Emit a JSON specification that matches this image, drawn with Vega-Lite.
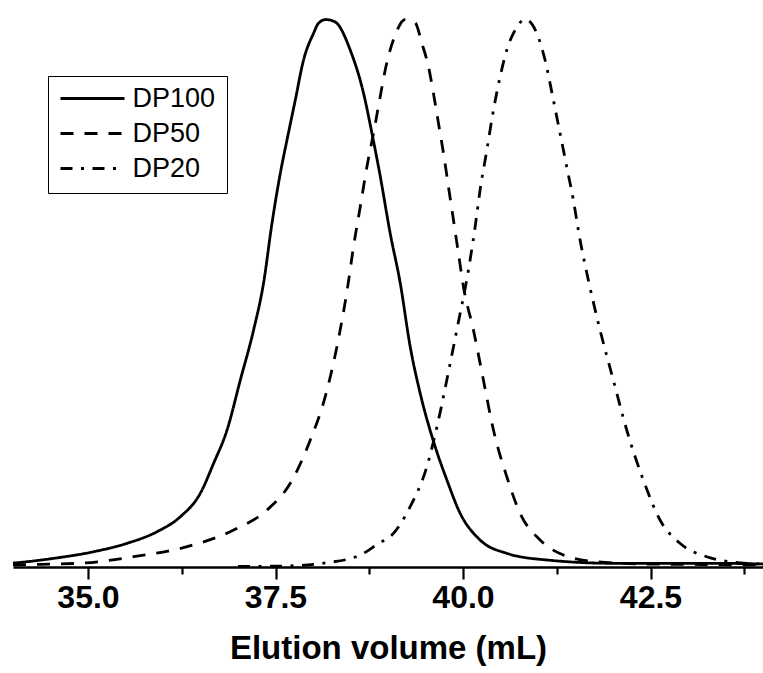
{
  "$schema": "https://vega.github.io/schema/vega-lite/v6.json",
  "autosize": {"type": "none"},
  "padding": {"left": 13, "top": 11, "right": 0, "bottom": 106},
  "width": 750,
  "height": 556,
  "background": "white",
  "config": {"view": {"stroke": null}},
  "data": {
    "values": [
      {"s": "DP100", "v": 34.0, "a": 0.007},
      {"s": "DP100", "v": 34.056, "a": 0.0077},
      {"s": "DP100", "v": 34.544, "a": 0.0156},
      {"s": "DP100", "v": 35.076, "a": 0.0275},
      {"s": "DP100", "v": 35.521, "a": 0.0426},
      {"s": "DP100", "v": 35.921, "a": 0.0635},
      {"s": "DP100", "v": 36.232, "a": 0.0905},
      {"s": "DP100", "v": 36.498, "a": 0.1326},
      {"s": "DP100", "v": 36.675, "a": 0.1865},
      {"s": "DP100", "v": 36.854, "a": 0.2464},
      {"s": "DP100", "v": 37.031, "a": 0.3363},
      {"s": "DP100", "v": 37.208, "a": 0.4263},
      {"s": "DP100", "v": 37.341, "a": 0.5108},
      {"s": "DP100", "v": 37.453, "a": 0.6182},
      {"s": "DP100", "v": 37.564, "a": 0.7081},
      {"s": "DP100", "v": 37.653, "a": 0.768},
      {"s": "DP100", "v": 37.764, "a": 0.8399},
      {"s": "DP100", "v": 37.874, "a": 0.9119},
      {"s": "DP100", "v": 38.007, "a": 0.9599},
      {"s": "DP100", "v": 38.073, "a": 0.978},
      {"s": "DP100", "v": 38.17, "a": 0.9847},
      {"s": "DP100", "v": 38.246, "a": 0.983},
      {"s": "DP100", "v": 38.319, "a": 0.9779},
      {"s": "DP100", "v": 38.496, "a": 0.9299},
      {"s": "DP100", "v": 38.674, "a": 0.852},
      {"s": "DP100", "v": 38.786, "a": 0.78},
      {"s": "DP100", "v": 38.896, "a": 0.7032},
      {"s": "DP100", "v": 39.029, "a": 0.6002},
      {"s": "DP100", "v": 39.163, "a": 0.5108},
      {"s": "DP100", "v": 39.296, "a": 0.3962},
      {"s": "DP100", "v": 39.429, "a": 0.3124},
      {"s": "DP100", "v": 39.629, "a": 0.2164},
      {"s": "DP100", "v": 39.785, "a": 0.1565},
      {"s": "DP100", "v": 39.962, "a": 0.0966},
      {"s": "DP100", "v": 40.228, "a": 0.0486},
      {"s": "DP100", "v": 40.584, "a": 0.0246},
      {"s": "DP100", "v": 41.117, "a": 0.0126},
      {"s": "DP100", "v": 42.0, "a": 0.0067},
      {"s": "DP100", "v": 43.333, "a": 0.0067},
      {"s": "DP100", "v": 44.0, "a": 0.0054},

      {"s": "DP50", "v": 34.0, "a": 0.004},
      {"s": "DP50", "v": 34.277, "a": 0.0045},
      {"s": "DP50", "v": 34.943, "a": 0.0072},
      {"s": "DP50", "v": 35.609, "a": 0.0185},
      {"s": "DP50", "v": 36.321, "a": 0.0365},
      {"s": "DP50", "v": 36.942, "a": 0.0665},
      {"s": "DP50", "v": 37.387, "a": 0.1025},
      {"s": "DP50", "v": 37.697, "a": 0.1505},
      {"s": "DP50", "v": 37.964, "a": 0.2284},
      {"s": "DP50", "v": 38.163, "a": 0.3063},
      {"s": "DP50", "v": 38.319, "a": 0.3962},
      {"s": "DP50", "v": 38.47, "a": 0.5108},
      {"s": "DP50", "v": 38.54, "a": 0.5761},
      {"s": "DP50", "v": 38.63, "a": 0.648},
      {"s": "DP50", "v": 38.719, "a": 0.72},
      {"s": "DP50", "v": 38.807, "a": 0.78},
      {"s": "DP50", "v": 38.896, "a": 0.8459},
      {"s": "DP50", "v": 38.963, "a": 0.8939},
      {"s": "DP50", "v": 39.096, "a": 0.9568},
      {"s": "DP50", "v": 39.23, "a": 0.9847},
      {"s": "DP50", "v": 39.362, "a": 0.979},
      {"s": "DP50", "v": 39.452, "a": 0.9419},
      {"s": "DP50", "v": 39.54, "a": 0.8998},
      {"s": "DP50", "v": 39.606, "a": 0.852},
      {"s": "DP50", "v": 39.673, "a": 0.798},
      {"s": "DP50", "v": 39.74, "a": 0.7441},
      {"s": "DP50", "v": 39.806, "a": 0.684},
      {"s": "DP50", "v": 39.873, "a": 0.6241},
      {"s": "DP50", "v": 39.939, "a": 0.5642},
      {"s": "DP50", "v": 40.006, "a": 0.5041},
      {"s": "DP50", "v": 40.139, "a": 0.4263},
      {"s": "DP50", "v": 40.272, "a": 0.3363},
      {"s": "DP50", "v": 40.406, "a": 0.2464},
      {"s": "DP50", "v": 40.584, "a": 0.1624},
      {"s": "DP50", "v": 40.761, "a": 0.0966},
      {"s": "DP50", "v": 41.028, "a": 0.0486},
      {"s": "DP50", "v": 41.338, "a": 0.0216},
      {"s": "DP50", "v": 41.783, "a": 0.0095},
      {"s": "DP50", "v": 42.449, "a": 0.0054},
      {"s": "DP50", "v": 43.16, "a": 0.0045},
      {"s": "DP50", "v": 44.0, "a": 0.0036},

      {"s": "DP20", "v": 37.0, "a": 0.001},
      {"s": "DP20", "v": 37.608, "a": 0.0018},
      {"s": "DP20", "v": 38.186, "a": 0.0077},
      {"s": "DP20", "v": 38.63, "a": 0.0216},
      {"s": "DP20", "v": 38.896, "a": 0.0441},
      {"s": "DP20", "v": 39.029, "a": 0.0545},
      {"s": "DP20", "v": 39.296, "a": 0.1085},
      {"s": "DP20", "v": 39.518, "a": 0.1804},
      {"s": "DP20", "v": 39.673, "a": 0.2644},
      {"s": "DP20", "v": 39.829, "a": 0.3664},
      {"s": "DP20", "v": 39.962, "a": 0.4563},
      {"s": "DP20", "v": 40.042, "a": 0.5108},
      {"s": "DP20", "v": 40.162, "a": 0.6121},
      {"s": "DP20", "v": 40.228, "a": 0.6781},
      {"s": "DP20", "v": 40.318, "a": 0.75},
      {"s": "DP20", "v": 40.406, "a": 0.8219},
      {"s": "DP20", "v": 40.495, "a": 0.8818},
      {"s": "DP20", "v": 40.584, "a": 0.9299},
      {"s": "DP20", "v": 40.695, "a": 0.9658},
      {"s": "DP20", "v": 40.83, "a": 0.9847},
      {"s": "DP20", "v": 40.984, "a": 0.9599},
      {"s": "DP20", "v": 41.094, "a": 0.9119},
      {"s": "DP20", "v": 41.205, "a": 0.8399},
      {"s": "DP20", "v": 41.294, "a": 0.78},
      {"s": "DP20", "v": 41.383, "a": 0.72},
      {"s": "DP20", "v": 41.471, "a": 0.6601},
      {"s": "DP20", "v": 41.561, "a": 0.5881},
      {"s": "DP20", "v": 41.68, "a": 0.5108},
      {"s": "DP20", "v": 41.827, "a": 0.4263},
      {"s": "DP20", "v": 42.004, "a": 0.3363},
      {"s": "DP20", "v": 42.183, "a": 0.2464},
      {"s": "DP20", "v": 42.404, "a": 0.1565},
      {"s": "DP20", "v": 42.627, "a": 0.0845},
      {"s": "DP20", "v": 42.893, "a": 0.0426},
      {"s": "DP20", "v": 43.249, "a": 0.0185},
      {"s": "DP20", "v": 43.782, "a": 0.0067},
      {"s": "DP20", "v": 44.0, "a": 0.0054}
    ]
  },
  "mark": {"type": "line", "color": "black", "strokeWidth": 2.8, "clip": false, "interpolate": "monotone"},
  "encoding": {
    "x": {
      "field": "v",
      "type": "quantitative",
      "scale": {"domain": [34, 44], "nice": false, "zero": false},
      "axis": {
        "values": [35, 36.25, 37.5, 38.75, 40, 41.25, 42.5, 43.75],
        "labelExpr": "datum.value % 2.5 === 0 ? format(datum.value, '.1f') : ''",
        "tickSize": {"condition": {"test": "datum.value % 2.5 === 0", "value": 12}, "value": 7},
        "tickWidth": 2.2,
        "tickColor": "black",
        "domainColor": "black",
        "domainWidth": 2.7,
        "grid": false,
        "labelFont": "Liberation Sans",
        "labelFontWeight": "bold",
        "labelFontSize": 32,
        "labelColor": "black",
        "labelPadding": 3,
        "labelFlush": false,
        "labelOverlap": false,
        "title": "Elution volume (mL)",
        "titleFont": "Liberation Sans",
        "titleFontSize": 33,
        "titleFontWeight": "bold",
        "titleColor": "black",
        "titlePadding": 19
      }
    },
    "y": {
      "field": "a",
      "type": "quantitative",
      "scale": {"domain": [0, 1], "nice": false},
      "axis": null
    },
    "strokeDash": {
      "field": "s",
      "type": "nominal",
      "scale": {
        "domain": ["DP100", "DP50", "DP20"],
        "range": [[1, 0], [13, 11], [12, 8.5, 3, 8.5]]
      },
      "legend": {
        "title": null,
        "orient": "none",
        "legendX": 35,
        "legendY": 65,
        "symbolType": "stroke",
        "symbolSize": 4096,
        "symbolStrokeWidth": 3,
        "symbolStrokeColor": "black",
        "clipHeight": 23,
        "rowPadding": 7,
        "labelFont": "Liberation Sans",
        "labelFontSize": 27,
        "labelColor": "black",
        "labelOffset": 6.5,
        "padding": 11,
        "strokeColor": "black"
      }
    }
  }
}
